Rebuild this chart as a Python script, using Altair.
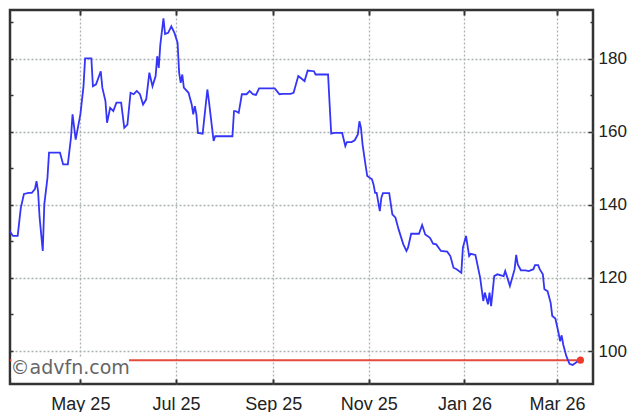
import altair as alt
import pandas as pd

# ---- data ----
dates = [
    "2025-03-12", "2025-03-15", "2025-03-16", "2025-03-19", "2025-03-22", "2025-03-24", "2025-03-26", "2025-03-29", "2025-03-31",
    "2025-04-02", "2025-04-03", "2025-04-04", "2025-04-05", "2025-04-07", "2025-04-08", "2025-04-10", "2025-04-11", "2025-04-18",
    "2025-04-20", "2025-04-23", "2025-04-25", "2025-04-26", "2025-04-28", "2025-04-29",
    "2025-05-01", "2025-05-03", "2025-05-04", "2025-05-08", "2025-05-09", "2025-05-11", "2025-05-14", "2025-05-15", "2025-05-17",
    "2025-05-18", "2025-05-20", "2025-05-22", "2025-05-24", "2025-05-27", "2025-05-29", "2025-05-31",
    "2025-06-02", "2025-06-04", "2025-06-06", "2025-06-08", "2025-06-10", "2025-06-12", "2025-06-14", "2025-06-16", "2025-06-18",
    "2025-06-19", "2025-06-20", "2025-06-21", "2025-06-23", "2025-06-24", "2025-06-26", "2025-06-28", "2025-06-30",
    "2025-07-02", "2025-07-03", "2025-07-04", "2025-07-05", "2025-07-06", "2025-07-09", "2025-07-11", "2025-07-12", "2025-07-13",
    "2025-07-14", "2025-07-15", "2025-07-18", "2025-07-21", "2025-07-22", "2025-07-24", "2025-07-25", "2025-07-26",
    "2025-08-06", "2025-08-07", "2025-08-08", "2025-08-10", "2025-08-12", "2025-08-15", "2025-08-17", "2025-08-19", "2025-08-21",
    "2025-08-23",
    "2025-09-02", "2025-09-05", "2025-09-07", "2025-09-12", "2025-09-14", "2025-09-17", "2025-09-19", "2025-09-21", "2025-09-23",
    "2025-09-27", "2025-09-28",
    "2025-10-06", "2025-10-07", "2025-10-08", "2025-10-10", "2025-10-15", "2025-10-17", "2025-10-18", "2025-10-21", "2025-10-23",
    "2025-10-25", "2025-10-26", "2025-10-27", "2025-10-28", "2025-10-30", "2025-10-31",
    "2025-11-03", "2025-11-04", "2025-11-05", "2025-11-06", "2025-11-08", "2025-11-09", "2025-11-10", "2025-11-14", "2025-11-16",
    "2025-11-18", "2025-11-20", "2025-11-23", "2025-11-25", "2025-11-26", "2025-11-28",
    "2025-12-03", "2025-12-05", "2025-12-07", "2025-12-10", "2025-12-12", "2025-12-14", "2025-12-17", "2025-12-21", "2025-12-23",
    "2025-12-25", "2025-12-27", "2025-12-30", "2025-12-31",
    "2026-01-02", "2026-01-04", "2026-01-05", "2026-01-08", "2026-01-11", "2026-01-13", "2026-01-14", "2026-01-16", "2026-01-17",
    "2026-01-18", "2026-01-20", "2026-01-22", "2026-01-26", "2026-01-27", "2026-01-29", "2026-01-30",
    "2026-02-02", "2026-02-03", "2026-02-04", "2026-02-06", "2026-02-09", "2026-02-11", "2026-02-14", "2026-02-15", "2026-02-17",
    "2026-02-18", "2026-02-20", "2026-02-21", "2026-02-23", "2026-02-25", "2026-02-26", "2026-02-28",
    "2026-03-02", "2026-03-03", "2026-03-04", "2026-03-05", "2026-03-07", "2026-03-09", "2026-03-11", "2026-03-13", "2026-03-14",
    "2026-03-16",
]

prices = [
    139.2, 139.1, 133.4, 131.5, 131.5, 139.2, 143.0, 143.3, 143.3,
    144.3, 146.5, 143.8, 136.5, 127.4, 140.2, 147.4, 154.3, 154.3, 151.1, 151.1, 158.4, 164.8, 157.9, 160.2,
    164.8, 172.5, 180.1, 180.1, 172.5, 173.0, 176.6, 172.1, 168.4, 162.5, 166.6, 165.7, 168.0, 168.0, 161.1, 162.0,
    170.7, 170.3, 171.2, 170.3, 167.5, 168.9, 176.2, 172.5, 175.3, 180.7, 177.5, 183.9, 191.1, 186.8, 187.1, 188.9, 187.1,
    184.4, 176.2, 173.4, 175.7, 172.1, 170.7, 167.5, 164.8, 167.0, 164.8, 159.7, 159.5, 171.6, 168.4, 161.1, 157.5, 158.8,
    158.8, 165.7, 165.7, 165.2, 170.3, 170.3, 171.2, 170.3, 170.1, 171.9,
    171.9, 170.3, 170.4, 170.4, 170.7, 175.3, 174.6, 173.9, 176.8, 176.6, 175.7,
    175.7, 167.5, 159.5, 159.7, 159.7, 156.1, 157.2, 157.2, 157.7, 159.3, 162.9, 161.1, 156.6, 150.6, 147.9,
    147.0, 145.6, 143.3, 143.3, 138.3, 142.0, 143.2, 143.2, 137.4, 136.5, 133.3, 129.2, 127.4, 128.3, 132.1,
    132.1, 134.5, 131.9, 131.0, 129.4, 129.2, 127.4, 127.2, 126.0, 122.8, 122.4, 121.4, 128.3,
    131.5, 126.0, 126.6, 126.3, 120.1, 113.7, 116.0, 112.8, 116.0, 112.3, 120.5, 121.0, 120.5, 121.9, 119.2, 117.8,
    122.4, 126.3, 123.7, 122.1, 122.1, 121.9, 122.4, 123.5, 123.5, 122.4, 121.0, 116.9, 116.4, 113.2, 109.6, 108.9,
    105.0, 102.7, 104.3, 101.8, 98.6, 96.5, 96.2, 96.8, 97.1, 97.5,
]

ref_level = 97.5
x_view_start = (2025, 3, 17, 2, 30)
x_view_end = (2026, 3, 24, 0, 0)
month_ticks = [(2025, 5), (2025, 7), (2025, 9), (2025, 11), (2026, 1), (2026, 3)]
y_major = [100, 120, 140, 160, 180]
y_minor = [110, 130, 150, 170, 190]
y_all = [100, 110, 120, 130, 140, 150, 160, 170, 180, 190]
y_domain = [90.97, 193.36]
watermark = "©advfn.com"

# ---- tables ----
df = pd.DataFrame({"date": dates, "price": prices})
ref_df = pd.DataFrame({"start": [dates[0]], "end": [dates[-1]], "level": [ref_level]})
last_df = pd.DataFrame({"date": [dates[-1]], "price": [prices[-1]]})
wm_df = pd.DataFrame({"label": [watermark]})


def dt(t):
    y, m, d, h, mi = t
    return alt.DateTime(year=y, month=m, date=d, hours=h, minutes=mi, utc=True)


x_scale = alt.Scale(type="utc", domain=[dt(x_view_start), dt(x_view_end)])
y_scale = alt.Scale(domain=y_domain, nice=False, zero=False)
tick_values = [alt.DateTime(year=y, month=m, date=1, utc=True) for y, m in month_ticks]

FONT = "Liberation Sans"
INK = "#333333"
LABEL = "#222222"
GRID = dict(gridColor="#aab2b2", gridDash=[2, 2], gridWidth=1.3)

ref_rule = alt.Chart(ref_df).mark_rule(color="#e64a3c", strokeWidth=2, clip=True).encode(
    x=alt.X("start:T", scale=x_scale, title=None,
            axis=alt.Axis(orient="top", values=tick_values, offset=-5, tickSize=5, tickWidth=2,
                          tickColor=INK, labels=False, domain=False, grid=False)),
    x2="end:T",
    y=alt.Y("level:Q", scale=y_scale, title=None,
            axis=alt.Axis(orient="right", values=y_major, offset=-5, tickSize=5, tickWidth=1.5,
                          tickColor=INK, labelPadding=5, labelFont=FONT, labelFontSize=17,
                          labelColor=LABEL, domain=False, grid=True, **GRID)),
)

line = alt.Chart(df).mark_line(color="#3535f8", strokeWidth=1.8, clip=True).encode(
    x=alt.X("date:T", scale=x_scale, title=None,
            axis=alt.Axis(orient="bottom", values=tick_values, format="%b %y", offset=-5, tickSize=5,
                          tickWidth=2, tickColor=INK, labelPadding=11, labelFont=FONT, labelFontSize=18,
                          labelColor=LABEL, domain=False, grid=True, **GRID)),
    y=alt.Y("price:Q", scale=y_scale, title=None,
            axis=alt.Axis(orient="left", values=y_all, offset=-3, tickSize=3, tickWidth=1.5,
                          tickColor=INK, labels=False, domain=False, grid=False)),
)

box = alt.Chart(wm_df).mark_rect(color="white").encode(
    x=alt.value(1.5), x2=alt.value(119), y=alt.value(347), y2=alt.value(368)
)

text = alt.Chart(wm_df).mark_text(align="left", baseline="middle", font="DejaVu Sans",
                                  fontSize=19, color="#666666").encode(
    x=alt.value(0.5), y=alt.value(357.5), text="label:N"
)

dot = alt.Chart(last_df).mark_circle(color="#ee3b2b", size=50, opacity=1).encode(
    x=alt.X("date:T", scale=x_scale, axis=None),
    y=alt.Y("price:Q", scale=y_scale, title=None,
            axis=alt.Axis(orient="right", values=y_minor, offset=-3, tickSize=3, tickWidth=1.5,
                          tickColor=INK, labels=False, domain=False, grid=False)),
)

chart = (
    alt.layer(ref_rule, line, box, text, dot)
    .resolve_axis(x="independent", y="independent")
    .properties(width=583, height=374, background="white",
                padding={"left": 1, "top": 1, "right": 0, "bottom": 0})
    .configure_view(stroke=INK, strokeWidth=2.5)
)

chart.save("out.html", embed_options={"renderer": "svg", "actions": False})
